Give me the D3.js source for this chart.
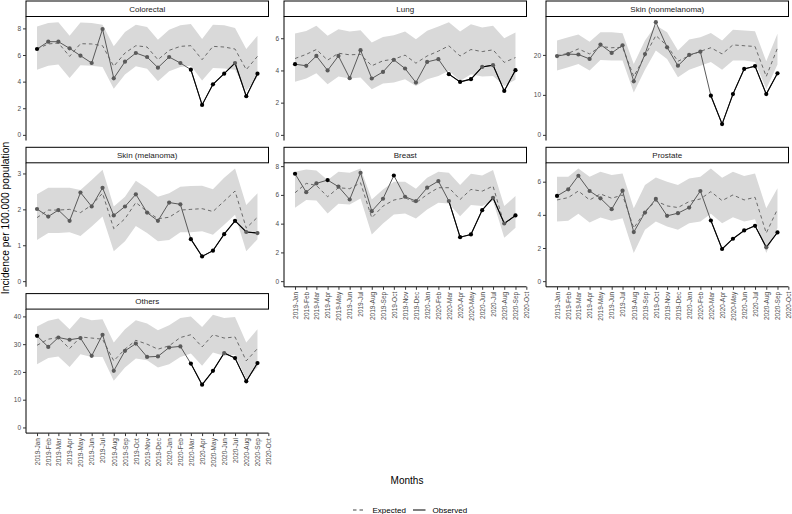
<!DOCTYPE html>
<html>
<head>
<meta charset="utf-8">
<script src="https://cdn.jsdelivr.net/npm/d3@7"></script>
<style>
  html, body { margin: 0; padding: 0; background: #fff; }
  svg { display: block; font-family: "Liberation Sans", Arial, Helvetica, sans-serif; }
</style>
</head>
<body>
<svg id="chart" width="792" height="514"></svg>
<script>
// ---------------- DATA ----------------
const panelNames = ["Colorectal", "Lung", "Skin (nonmelanoma)", "Skin (melanoma)", "Breast", "Prostate", "Others"];

const monthLabels = ["2019-Jan","2019-Feb","2019-Mar","2019-Apr","2019-May","2019-Jun","2019-Jul","2019-Aug","2019-Sep","2019-Oct","2019-Nov","2019-Dec",
                     "2020-Jan","2020-Feb","2020-Mar","2020-Apr","2020-May","2020-Jun","2020-Jul","2020-Aug","2020-Sep","2020-Oct"];
const dataMonths = monthLabels.slice(0, 21);   // observations Jan 2019 .. Sep 2020
const pandemicStart = "2020-Mar";

const colorectalObs = [6.45,7.0,7.0,6.5,5.95,5.4,7.95,4.25,5.5,6.15,5.85,5.05,5.85,5.4,4.9,2.25,3.8,4.6,5.4,2.9,4.6];
const colorectalExp = [6.45,6.83,6.9,5.9,6.85,6.83,6.7,5.15,6.15,6.7,6.6,5.65,6.35,6.65,6.7,5.65,6.65,6.6,6.45,4.9,5.9];
const colorectalHi  = [8.15,8.4,8.47,7.45,8.45,8.4,8.27,6.65,7.73,8.27,8.1,7.15,7.9,8.23,8.33,7.2,8.27,8.23,8.03,6.45,7.45];
const colorectalLo  = [4.9,5.2,5.28,4.28,5.23,5.2,5.1,3.47,4.53,5.16,4.96,4.03,4.78,5.1,5.2,4.08,5.03,4.98,4.9,3.3,4.33];
const colorectalFlag = [0,14,15,16,17,19,20];

const lungObs = [4.39,4.29,4.9,4.0,4.9,3.52,5.26,3.5,3.91,4.66,4.12,3.25,4.53,4.7,3.77,3.29,3.46,4.22,4.33,2.73,4.02];
const lungExp = [4.74,5.0,5.3,4.64,5.07,4.97,5.0,4.29,4.6,4.7,4.95,4.45,4.9,5.2,5.53,4.9,5.3,5.17,5.28,4.5,4.8];
const lungHi  = [6.3,6.45,6.77,6.15,6.56,6.42,6.5,5.73,6.08,6.19,6.42,5.94,6.46,6.73,7.0,6.42,6.87,6.67,6.77,6.0,6.35];
const lungLo  = [3.3,3.5,3.83,3.15,3.62,3.5,3.56,2.84,3.19,3.25,3.46,3.04,3.46,3.66,3.98,3.35,3.77,3.62,3.66,3.04,3.42];
const lungFlag = [0,14,15,16,19,20];

const nonmelObs = [19.7,20.2,20.1,19.0,22.6,20.5,22.4,13.4,20.2,28.2,21.9,17.3,20.0,20.8,9.8,2.7,10.2,16.5,17.2,10.2,15.4];
const nonmelExp = [19.8,20.4,21.5,20.25,22.1,21.8,21.9,14.6,19.8,24.85,22.3,18.4,19.8,20.9,21.8,20.25,22.5,22.3,22.1,14.6,21.7];
const nonmelHi  = [23.6,24.4,25.1,23.3,25.7,25.7,25.4,17.7,23.6,27.4,25.7,21.1,23.85,24.4,25.5,23.6,26.3,26.1,25.9,18.4,25.3];
const nonmelLo  = [16.1,16.9,17.7,16.1,18.7,18.6,18.6,10.6,16.3,21.1,19.0,14.4,16.3,17.3,18.2,16.3,18.6,18.6,18.2,11.5,17.6];
const nonmelFlag = [14,15,16,17,18,19,20];

const melObs = [2.01,1.8,1.98,1.68,2.47,2.08,2.6,1.83,2.08,2.42,1.91,1.68,2.19,2.14,1.17,0.69,0.85,1.31,1.68,1.37,1.34];
const melExp = [1.77,1.98,1.98,2.0,1.91,2.12,2.45,1.46,1.74,2.19,1.94,1.74,1.78,1.98,2.0,2.02,1.94,2.23,2.51,1.48,1.78];
const melHi  = [2.42,2.6,2.6,2.6,2.54,2.82,3.1,2.08,2.35,2.8,2.59,2.35,2.45,2.63,2.65,2.66,2.56,2.88,3.14,2.12,2.45];
const melLo  = [1.15,1.34,1.34,1.36,1.26,1.52,1.8,0.83,1.11,1.54,1.34,1.11,1.15,1.36,1.36,1.39,1.29,1.57,1.85,0.83,1.17];
const melFlag = [14,15,16,17,18];

const breastObs = [7.47,6.19,6.8,7.03,6.57,5.68,7.54,4.87,5.73,7.35,5.87,5.57,6.5,6.96,5.57,3.06,3.25,4.94,5.8,4.01,4.57];
const breastExp = [6.15,6.8,6.66,5.87,6.5,6.43,6.84,4.41,5.22,5.64,5.8,5.45,6.03,6.5,6.5,5.68,6.38,6.26,6.61,3.94,4.64];
const breastHi  = [7.61,7.77,7.7,7.03,7.61,7.54,7.84,5.68,6.38,6.91,6.91,6.43,7.19,7.61,7.54,6.68,7.47,7.35,7.73,5.22,5.92];
const breastLo  = [5.1,5.64,5.61,4.71,5.38,5.34,5.75,3.25,4.01,4.64,4.71,4.36,4.99,5.45,5.41,4.52,5.29,5.22,5.57,3.02,3.71];
const breastFlag = [0,3,9,15,16,17,20];

const prostateObs = [5.14,5.54,6.36,5.44,5.0,4.34,5.46,2.96,4.14,4.96,3.94,4.1,4.44,5.44,3.66,1.94,2.56,3.06,3.34,2.04,2.94];
const prostateExp = [4.9,5.04,5.44,4.9,5.26,5.0,5.2,3.2,4.2,4.84,4.54,4.44,4.8,4.96,5.4,4.86,5.2,4.9,5.06,2.9,4.34];
const prostateHi  = [6.3,6.3,6.8,6.3,6.6,6.4,6.5,4.4,5.8,6.26,6.0,5.8,6.2,6.3,6.8,6.24,6.6,6.34,6.5,4.4,5.6];
const prostateLo  = [3.6,3.64,4.06,3.54,3.84,3.64,3.8,1.7,3.1,3.6,3.3,3.1,3.5,3.6,4.06,3.5,3.86,3.6,3.74,1.7,3.2];
const prostateFlag = [0,14,15,16,17,18,20];

const othersObs = [33.0,29.0,32.4,31.6,32.2,25.8,33.4,20.4,27.6,30.2,25.4,25.6,28.8,29.2,23.0,15.4,20.4,26.8,25.0,16.6,23.2];
const othersExp = [29.6,31.8,32.4,28.4,32.6,32.2,31.8,24.0,28.2,31.4,30.0,28.2,29.4,32.4,33.4,29.0,33.4,32.2,32.6,24.0,28.4];
const othersHi  = [36.4,38.4,39.2,35.4,39.8,38.6,39.0,30.6,35.4,38.6,37.4,35.0,36.8,39.4,40.0,36.2,40.6,39.4,39.8,30.6,35.4];
const othersLo  = [22.8,25.0,25.6,21.8,26.4,25.4,25.4,16.8,21.6,24.8,24.2,21.6,22.8,25.4,26.6,22.2,27.0,25.8,26.2,17.4,21.6];
const othersFlag = [0,14,15,16,18,19,20];

const seriesObs  = [colorectalObs, lungObs, nonmelObs, melObs, breastObs, prostateObs, othersObs];
const seriesExp  = [colorectalExp, lungExp, nonmelExp, melExp, breastExp, prostateExp, othersExp];
const seriesHi   = [colorectalHi, lungHi, nonmelHi, melHi, breastHi, prostateHi, othersHi];
const seriesLo   = [colorectalLo, lungLo, nonmelLo, melLo, breastLo, prostateLo, othersLo];
const seriesFlag = [colorectalFlag, lungFlag, nonmelFlag, melFlag, breastFlag, prostateFlag, othersFlag];

// ---------------- LAYOUT ----------------
const svg = d3.select("#chart");
const parseM = d3.timeParse("%Y-%b");
const fmtM = d3.timeFormat("%Y-%b");
const colLeft = [26, 284, 546];
const panelW = 242.5;
const stripTop = [1, 147.3, 293.6];
const stripH = 15.5;
const panelH = 124;
const tickFont = 6.5;
const tickColor = "#4d4d4d";

const dates = dataMonths.map(parseM);
const t0 = dates[0], t1 = dates[dates.length - 1];
const span = t1 - t0;
const xDomain = [new Date(+t0 - 0.05 * span), new Date(+t1 + 0.05 * span)];
const tickDates = monthLabels.map(parseM);
const startIdx = dataMonths.indexOf(pandemicStart);

panelNames.forEach((name, p) => {
  const col = p % 3, row = Math.floor(p / 3);
  const left = colLeft[col];
  const sTop = stripTop[row];
  const top = sTop + stripH;
  const bottom = top + panelH;
  const isBottom = (p >= 4);

  const obs = seriesObs[p], exp = seriesExp[p], hi = seriesHi[p], lo = seriesLo[p];
  const flags = new Set(seriesFlag[p]);
  const rows = dates.map((d, i) => ({d, obs: obs[i], exp: exp[i], hi: hi[i], lo: lo[i], i, flag: flags.has(i)}));

  const x = d3.scaleTime().domain(xDomain).range([left, left + panelW]);
  const yMax = d3.max([d3.max(hi), d3.max(obs)]);
  const yMin = 0;
  const yr = yMax - yMin;
  const y = d3.scaleLinear().domain([yMin - 0.05 * yr, yMax + 0.05 * yr]).range([bottom, top]);

  const g = svg.append("g");

  // ribbon
  g.append("path").datum(rows)
    .attr("fill", "#d9d9d9")
    .attr("d", d3.area().x(d => x(d.d)).y0(d => y(d.lo)).y1(d => y(d.hi)));

  // expected dashed
  g.append("path").datum(rows)
    .attr("fill", "none").attr("stroke", "#5e5e5e").attr("stroke-width", 0.9)
    .attr("stroke-dasharray", "3.5,3")
    .attr("d", d3.line().x(d => x(d.d)).y(d => y(d.exp)));

  // observed line (grey) and pandemic period (black)
  const line = d3.line().x(d => x(d.d)).y(d => y(d.obs));
  g.append("path").datum(rows)
    .attr("fill", "none").attr("stroke", "#5a5a5a").attr("stroke-width", 1)
    .attr("d", line);
  g.append("path").datum(rows.slice(startIdx))
    .attr("fill", "none").attr("stroke", "#000").attr("stroke-width", 1.1)
    .attr("d", line);

  // points
  g.selectAll("circle.pt").data(rows).join("circle")
    .attr("class", "pt")
    .attr("cx", d => x(d.d)).attr("cy", d => y(d.obs))
    .attr("r", 2.1)
    .attr("fill", d => d.flag ? "#000" : "#5a5a5a");

  // y axis
  const yAxis = d3.axisLeft(y).ticks(4).tickSize(3).tickPadding(2);
  const ya = g.append("g").attr("transform", `translate(${left},0)`).call(yAxis);
  ya.select(".domain").attr("d", `M0,${top}V${bottom}`).attr("stroke", "#000").attr("stroke-width", 1);
  ya.selectAll(".tick line").attr("stroke", "#333");
  ya.selectAll(".tick text").attr("fill", tickColor).style("font-size", tickFont + "px")
    .style("font-family", "'Liberation Sans', Arial, sans-serif");

  // x axis (bottom panels of each column)
  if (isBottom) {
    const xAxis = d3.axisBottom(x).tickValues(tickDates).tickFormat(fmtM).tickSize(3).tickPadding(2);
    const xa = g.append("g").attr("transform", `translate(0,${bottom})`).call(xAxis);
    xa.select(".domain").attr("d", `M${left},0H${left + panelW}`).attr("stroke", "#000").attr("stroke-width", 1);
    xa.selectAll(".tick line").attr("stroke", "#333");
    xa.selectAll(".tick text")
      .attr("fill", tickColor).style("font-size", tickFont + "px")
      .style("font-family", "'Liberation Sans', Arial, sans-serif")
      .attr("transform", "rotate(-90)")
      .attr("x", -5).attr("y", 0).attr("dy", "0.35em")
      .attr("text-anchor", "end");
  }

  // strip
  g.append("rect")
    .attr("x", left).attr("y", sTop).attr("width", panelW).attr("height", stripH)
    .attr("fill", "#fff").attr("stroke", "#000").attr("stroke-width", 1);
  g.append("text")
    .attr("x", left + panelW / 2).attr("y", sTop + stripH / 2)
    .attr("dy", "0.35em").attr("text-anchor", "middle")
    .attr("fill", "#1a1a1a").style("font-size", "8px")
    .text(name);
});

// axis titles
svg.append("text")
  .attr("transform", "translate(9,218) rotate(-90)")
  .attr("text-anchor", "middle").style("font-size", "10.3px").attr("fill", "#000")
  .text("Incidence per 100.000 population");
svg.append("text")
  .attr("x", 407).attr("y", 484)
  .attr("text-anchor", "middle").style("font-size", "10px").attr("fill", "#000")
  .text("Months");

// legend
const legendItems = ["Expected", "Observed"];
const legendDash = ["3.5,3", null];
const lg = svg.append("g");
const legX = [353, 413];
legendItems.forEach((lab, i) => {
  const l = lg.append("line")
    .attr("x1", legX[i]).attr("x2", legX[i] + 12.5)
    .attr("y1", 510).attr("y2", 510)
    .attr("stroke", i === 0 ? "#444" : "#000").attr("stroke-width", 1);
  if (legendDash[i]) l.attr("stroke-dasharray", legendDash[i]);
  lg.append("text")
    .attr("x", legX[i] + 19.5).attr("y", 510).attr("dy", "0.35em")
    .style("font-size", "8px").attr("fill", "#000")
    .text(lab);
});
</script>
</body>
</html>
